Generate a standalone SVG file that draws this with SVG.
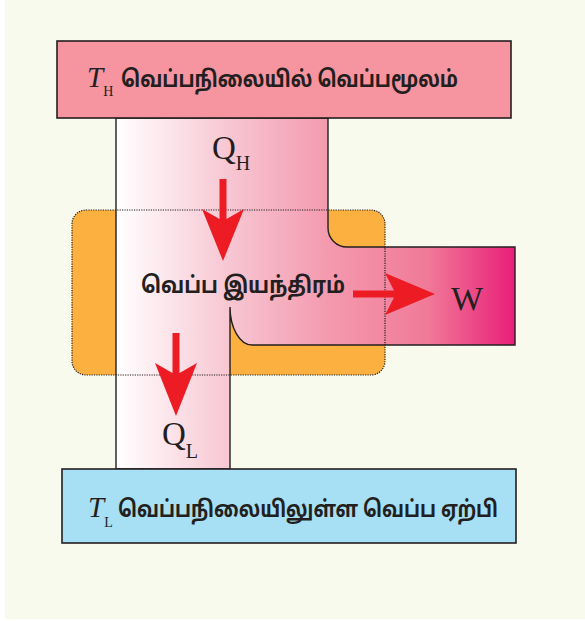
<svg xmlns="http://www.w3.org/2000/svg" width="585" height="621" viewBox="0 0 585 621">
<defs>
<style>
.box{stroke:#231f20;stroke-width:1.6}
.ta{font-family:"Noto Sans Tamil","Lohit Tamil","Noto Sans","DejaVu Sans",sans-serif;font-weight:bold;fill:#231f20}
.sf{font-family:"Liberation Serif","Times New Roman",serif;fill:#231f20}
.arrow{fill:#ed1c24}
</style>
<linearGradient id="flowGrad" gradientUnits="userSpaceOnUse" x1="116" y1="0" x2="515" y2="0">
<stop offset="0" stop-color="#ffffff"/>
<stop offset="0.286" stop-color="#f7c6d2"/>
<stop offset="0.531" stop-color="#f49aae"/>
<stop offset="0.78" stop-color="#f07a98"/>
<stop offset="1" stop-color="#e91e79"/>
</linearGradient>
</defs>
<rect x="0" y="0" width="585" height="621" fill="#ffffff"/>
<rect x="5" y="0" width="580" height="619" fill="#f8faee"/>

<g id="engine-back">
<rect x="72" y="210" width="313" height="165" rx="14" fill="#fbb040"/>
</g>

<g id="flow">
<path d="M116,118 L328,118 L328,228 A19,19 0 0 0 347,247 L515,247 L515,345 L252,345 A22,38 0 0 1 230,307 L230,469 L116,469 Z" fill="url(#flowGrad)" stroke="#231f20" stroke-width="1.4"/>
</g>

<g id="engine">
<rect x="72" y="210" width="313" height="165" rx="14" fill="none" stroke="#231f20" stroke-width="1.2" stroke-dasharray="1.2 1.2"/>
<text class="ta" x="141" y="293" font-size="23" textLength="204" lengthAdjust="spacingAndGlyphs">வெப்ப இயந்திரம்</text>
</g>

<g id="source">
<rect class="box" x="57" y="41" width="454" height="77" fill="#f6949f"/>
<text class="sf" x="87" y="87" font-size="29"><tspan font-style="italic">T</tspan><tspan dy="9" font-size="14">H</tspan></text>
<text class="ta" x="121" y="87" font-size="23" textLength="337" lengthAdjust="spacingAndGlyphs">வெப்பநிலையில் வெப்பமூலம்</text>
</g>

<g id="sink">
<rect class="box" x="62" y="469" width="454" height="74" fill="#a7dff5"/>
<text class="sf" x="88" y="517" font-size="29"><tspan font-style="italic">T</tspan><tspan dy="10" font-size="14">L</tspan></text>
<text class="ta" x="118" y="517" font-size="23" textLength="380" lengthAdjust="spacingAndGlyphs">வெப்பநிலையிலுள்ள வெப்ப ஏற்பி</text>
</g>

<g id="connectors">
<path class="arrow" d="M219.5,179 L226.5,179 L226.5,219 L244,209 L223,261 L202,209 L219.5,219 Z"/>
<path class="arrow" d="M172.5,333 L179.5,333 L179.5,373 L197,363 L176,416 L155,363 L172.5,373 Z"/>
<path class="arrow" d="M353,290.5 L394,290.5 L385,273 L435,294 L385,315 L394,297.5 L353,297.5 Z"/>
</g>

<g id="labels">
<text class="sf" x="212" y="159" font-size="33">Q<tspan dy="11" font-size="20">H</tspan></text>
<text class="sf" x="162" y="445" font-size="33">Q<tspan dy="13" font-size="20">L</tspan></text>
<text class="sf" x="451" y="310" font-size="34">W</text>
</g>
</svg>
